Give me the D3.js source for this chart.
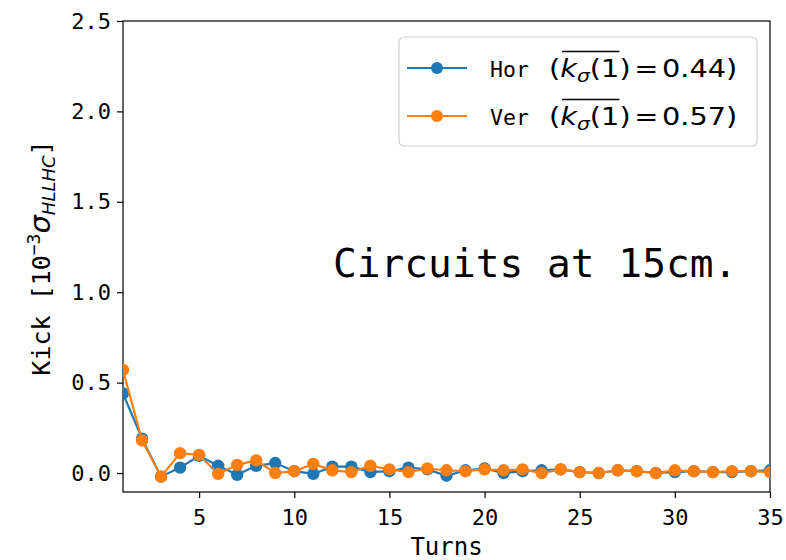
<!DOCTYPE html>
<html><head><meta charset="utf-8">
<script src="https://cdn.jsdelivr.net/npm/d3@7"></script>
<style>body{margin:0;background:#fff}</style>
</head><body>
<svg id="c" width="786" height="560"></svg>
<script>
const turns = d3.range(1, 36);
const horValues = [0.44,0.19,-0.02,0.03,0.095,0.04,-0.01,0.04,0.055,0.01,-0.005,0.035,0.035,0.005,0.01,0.03,0.02,-0.015,0.015,0.025,0.0,0.01,0.015,0.02,0.005,0.0,0.015,0.01,0.0,0.005,0.01,0.005,0.005,0.01,0.015];
const verValues = [0.57,0.18,-0.02,0.11,0.10,-0.005,0.045,0.07,0.0,0.01,0.05,0.015,0.005,0.04,0.02,0.005,0.025,0.015,0.01,0.02,0.015,0.02,0.0,0.02,0.005,0.0,0.015,0.01,0.0,0.015,0.01,0.005,0.01,0.01,0.005];
const xTicks = [5,10,15,20,25,30,35];
const yTicks = [0,0.5,1.0,1.5,2.0,2.5];
const seriesNames = ["Hor","Ver"];
const seriesMeans = ["0.44","0.57"];
const colors = ["#1f77b4","#ff7f0e"];
const annotation = "Circuits at 15cm.";

const MONO = "'DejaVu Sans Mono', monospace";
const SANS = "'DejaVu Sans', sans-serif";
const svg = d3.select("#c");
const L=123, R=770, T=21, B=492;
const x = d3.scaleLinear().domain([1,35]).range([L,R]);
const y = d3.scaleLinear().domain([-0.105,2.5]).range([B,T]);

// axes
const xa = svg.append("g").attr("transform",`translate(0,${B})`)
  .call(d3.axisBottom(x).tickValues(xTicks).tickFormat(d3.format("d")).tickSize(6).tickPadding(6));
const ya = svg.append("g").attr("transform",`translate(${L},0)`)
  .call(d3.axisLeft(y).tickValues(yTicks).tickFormat(d3.format(".1f")).tickSize(6).tickPadding(6));
[xa,ya].forEach(a=>{
  a.select(".domain").remove();
  a.selectAll("line").attr("stroke","#000").attr("stroke-width",1.2);
  a.selectAll("text").attr("font-family",MONO).attr("font-size",22).attr("fill","#000");
});
xa.selectAll("text").attr("dy","0.95em");
svg.append("rect").attr("x",L).attr("y",T).attr("width",R-L).attr("height",B-T)
  .attr("fill","none").attr("stroke","#000").attr("stroke-width",1.2);

// clip
svg.append("clipPath").attr("id","clip").append("rect").attr("x",L).attr("y",T).attr("width",R-L).attr("height",B-T);
const plot = svg.append("g").attr("clip-path","url(#clip)");
const line = d3.line().x((d,i)=>x(turns[i])).y(d=>y(d));
[horValues,verValues].forEach((vals,k)=>{
  const g = plot.append("g");
  g.append("path").datum(vals).attr("d",line).attr("fill","none").attr("stroke",colors[k]).attr("stroke-width",2.2);
  g.selectAll("circle").data(vals).join("circle")
    .attr("cx",(d,i)=>x(turns[i])).attr("cy",d=>y(d)).attr("r",6.2).attr("fill",colors[k]);
});

// annotation
svg.append("text").attr("x",333).attr("y",277).attr("font-family",MONO).attr("font-size",39.5)
  .attr("fill","#000").text(annotation);

// legend
svg.append("rect").attr("x",399).attr("y",37).attr("width",358).attr("height",109).attr("rx",5)
  .attr("fill","#fff").attr("fill-opacity",0.8).attr("stroke","#d0d0d0").attr("stroke-width",1.2);
seriesNames.forEach((nm,k)=>{
  const cy = 68 + k*48;
  svg.append("line").attr("x1",407).attr("x2",467).attr("y1",cy).attr("y2",cy).attr("stroke",colors[k]).attr("stroke-width",2.2);
  svg.append("circle").attr("cx",437).attr("cy",cy).attr("r",6).attr("fill",colors[k]);
  const by = cy+9;
  svg.append("text").attr("x",490).attr("y",by).attr("font-family",MONO).attr("font-size",21.5).text(nm);
  const g = svg.append("g").attr("transform",`translate(549,${by}) scale(1.2,1)`);
  const t = g.append("text").attr("x",0).attr("y",0).attr("font-family",SANS).attr("font-size",24).attr("fill","#000");
  t.append("tspan").text("(");
  t.append("tspan").attr("font-style","italic").text("k");
  t.append("tspan").attr("font-style","italic").attr("font-size",17).attr("dy",5).text("σ");
  t.append("tspan").attr("dy",-5).text("(1)");
  t.append("tspan").attr("dx",3).text("=");
  t.append("tspan").attr("dx",3).text(seriesMeans[k] + ")");
  // overline over k_sigma(1)
  const node = t.node();
  const s = node.getStartPositionOfChar(1).x;
  const e = node.getEndPositionOfChar(4).x;
  g.append("line").attr("x1",s+1.5).attr("x2",e).attr("y1",-25.5).attr("y2",-25.5).attr("stroke","#000").attr("stroke-width",1.3);
});

// axis labels
svg.append("text").attr("x",(L+R)/2).attr("y",555).attr("text-anchor","middle")
  .attr("font-family",MONO).attr("font-size",24).text("Turns");
const yl = svg.append("text").attr("transform","translate(50,258) rotate(-90)").attr("text-anchor","middle")
  .attr("font-family",MONO).attr("font-size",25);
yl.append("tspan").text("Kick [10");
yl.append("tspan").attr("font-size",18).attr("dy",-10).text("−3");
yl.append("tspan").attr("font-family",SANS).attr("font-style","italic").attr("font-size",29).attr("dy",10).text("σ");
yl.append("tspan").attr("font-family",SANS).attr("font-style","italic").attr("font-size",18).attr("dy",5).text("HLLHC");
yl.append("tspan").attr("dy",-5).text("]");
</script>
</body></html>
